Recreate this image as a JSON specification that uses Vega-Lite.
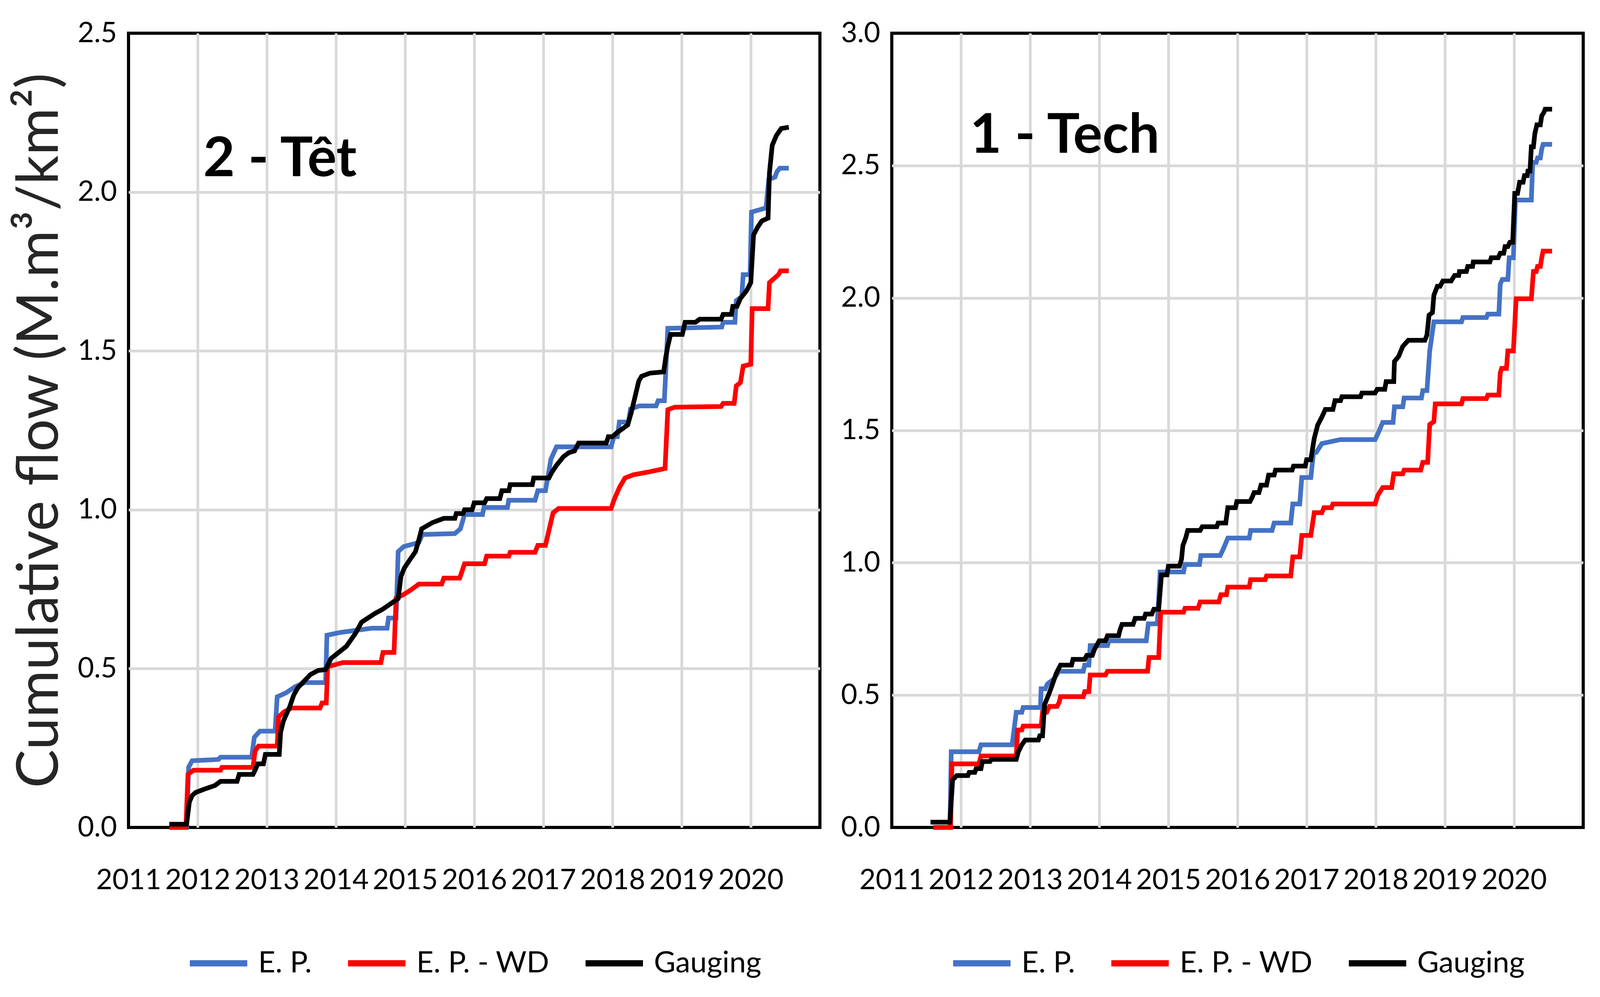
{
"$schema": "https://vega.github.io/schema/vega-lite/v6.json",
"background": "white",
"padding": {"left": 25, "top": 45, "right": 10, "bottom": 5},
"spacing": 45,
"datasets": {
"tet": [
{"series":"E. P.","year":2011.59,"flow":0},{"series":"E. P.","year":2011.84,"flow":0},{"series":"E. P.","year":2011.87,"flow":0.19},{"series":"E. P.","year":2011.92,"flow":0.21},{"series":"E. P.","year":2012.30,"flow":0.214},{"series":"E. P.","year":2012.33,"flow":0.221},{"series":"E. P.","year":2012.78,"flow":0.221},{"series":"E. P.","year":2012.82,"flow":0.284},{"series":"E. P.","year":2012.90,"flow":0.303},{"series":"E. P.","year":2013.12,"flow":0.303},{"series":"E. P.","year":2013.15,"flow":0.411},{"series":"E. P.","year":2013.28,"flow":0.424},{"series":"E. P.","year":2013.41,"flow":0.443},{"series":"E. P.","year":2013.55,"flow":0.456},{"series":"E. P.","year":2013.85,"flow":0.456},{"series":"E. P.","year":2013.87,"flow":0.605},{"series":"E. P.","year":2014.07,"flow":0.614},{"series":"E. P.","year":2014.52,"flow":0.627},{"series":"E. P.","year":2014.74,"flow":0.627},{"series":"E. P.","year":2014.76,"flow":0.659},{"series":"E. P.","year":2014.87,"flow":0.659},{"series":"E. P.","year":2014.90,"flow":0.868},{"series":"E. P.","year":2014.98,"flow":0.884},{"series":"E. P.","year":2015.20,"flow":0.897},{"series":"E. P.","year":2015.25,"flow":0.922},{"series":"E. P.","year":2015.72,"flow":0.925},{"series":"E. P.","year":2015.80,"flow":0.94},{"series":"E. P.","year":2015.86,"flow":0.985},{"series":"E. P.","year":2016.12,"flow":0.985},{"series":"E. P.","year":2016.14,"flow":1.007},{"series":"E. P.","year":2016.48,"flow":1.007},{"series":"E. P.","year":2016.50,"flow":1.03},{"series":"E. P.","year":2016.88,"flow":1.03},{"series":"E. P.","year":2016.92,"flow":1.06},{"series":"E. P.","year":2017.03,"flow":1.06},{"series":"E. P.","year":2017.11,"flow":1.16},{"series":"E. P.","year":2017.19,"flow":1.198},{"series":"E. P.","year":2017.98,"flow":1.198},{"series":"E. P.","year":2018.02,"flow":1.23},{"series":"E. P.","year":2018.07,"flow":1.23},{"series":"E. P.","year":2018.10,"flow":1.276},{"series":"E. P.","year":2018.23,"flow":1.276},{"series":"E. P.","year":2018.26,"flow":1.317},{"series":"E. P.","year":2018.39,"flow":1.327},{"series":"E. P.","year":2018.63,"flow":1.327},{"series":"E. P.","year":2018.66,"flow":1.343},{"series":"E. P.","year":2018.75,"flow":1.343},{"series":"E. P.","year":2018.80,"flow":1.571},{"series":"E. P.","year":2019.58,"flow":1.575},{"series":"E. P.","year":2019.60,"flow":1.59},{"series":"E. P.","year":2019.77,"flow":1.59},{"series":"E. P.","year":2019.79,"flow":1.658},{"series":"E. P.","year":2019.87,"flow":1.671},{"series":"E. P.","year":2019.89,"flow":1.74},{"series":"E. P.","year":2019.99,"flow":1.74},{"series":"E. P.","year":2020.01,"flow":1.937},{"series":"E. P.","year":2020.22,"flow":1.95},{"series":"E. P.","year":2020.26,"flow":2.04},{"series":"E. P.","year":2020.35,"flow":2.047},{"series":"E. P.","year":2020.38,"flow":2.065},{"series":"E. P.","year":2020.42,"flow":2.075},{"series":"E. P.","year":2020.55,"flow":2.075},
{"series":"E. P. - WD","year":2011.59,"flow":0},{"series":"E. P. - WD","year":2011.83,"flow":0},{"series":"E. P. - WD","year":2011.86,"flow":0.167},{"series":"E. P. - WD","year":2011.94,"flow":0.18},{"series":"E. P. - WD","year":2012.33,"flow":0.18},{"series":"E. P. - WD","year":2012.35,"flow":0.189},{"series":"E. P. - WD","year":2012.80,"flow":0.189},{"series":"E. P. - WD","year":2012.83,"flow":0.24},{"series":"E. P. - WD","year":2012.88,"flow":0.256},{"series":"E. P. - WD","year":2013.15,"flow":0.256},{"series":"E. P. - WD","year":2013.17,"flow":0.348},{"series":"E. P. - WD","year":2013.25,"flow":0.364},{"series":"E. P. - WD","year":2013.36,"flow":0.376},{"series":"E. P. - WD","year":2013.77,"flow":0.376},{"series":"E. P. - WD","year":2013.80,"flow":0.392},{"series":"E. P. - WD","year":2013.86,"flow":0.392},{"series":"E. P. - WD","year":2013.88,"flow":0.506},{"series":"E. P. - WD","year":2014.10,"flow":0.519},{"series":"E. P. - WD","year":2014.65,"flow":0.519},{"series":"E. P. - WD","year":2014.68,"flow":0.551},{"series":"E. P. - WD","year":2014.84,"flow":0.551},{"series":"E. P. - WD","year":2014.87,"flow":0.722},{"series":"E. P. - WD","year":2014.97,"flow":0.732},{"series":"E. P. - WD","year":2015.08,"flow":0.747},{"series":"E. P. - WD","year":2015.20,"flow":0.766},{"series":"E. P. - WD","year":2015.53,"flow":0.766},{"series":"E. P. - WD","year":2015.56,"flow":0.785},{"series":"E. P. - WD","year":2015.79,"flow":0.785},{"series":"E. P. - WD","year":2015.86,"flow":0.83},{"series":"E. P. - WD","year":2016.15,"flow":0.83},{"series":"E. P. - WD","year":2016.18,"flow":0.854},{"series":"E. P. - WD","year":2016.50,"flow":0.854},{"series":"E. P. - WD","year":2016.52,"flow":0.866},{"series":"E. P. - WD","year":2016.88,"flow":0.866},{"series":"E. P. - WD","year":2016.92,"flow":0.888},{"series":"E. P. - WD","year":2017.03,"flow":0.888},{"series":"E. P. - WD","year":2017.14,"flow":0.99},{"series":"E. P. - WD","year":2017.22,"flow":1.004},{"series":"E. P. - WD","year":2017.98,"flow":1.004},{"series":"E. P. - WD","year":2018.02,"flow":1.03},{"series":"E. P. - WD","year":2018.10,"flow":1.07},{"series":"E. P. - WD","year":2018.18,"flow":1.10},{"series":"E. P. - WD","year":2018.30,"flow":1.11},{"series":"E. P. - WD","year":2018.55,"flow":1.12},{"series":"E. P. - WD","year":2018.76,"flow":1.13},{"series":"E. P. - WD","year":2018.80,"flow":1.315},{"series":"E. P. - WD","year":2018.90,"flow":1.323},{"series":"E. P. - WD","year":2019.57,"flow":1.325},{"series":"E. P. - WD","year":2019.60,"flow":1.335},{"series":"E. P. - WD","year":2019.76,"flow":1.335},{"series":"E. P. - WD","year":2019.79,"flow":1.39},{"series":"E. P. - WD","year":2019.85,"flow":1.40},{"series":"E. P. - WD","year":2019.89,"flow":1.452},{"series":"E. P. - WD","year":2020.00,"flow":1.458},{"series":"E. P. - WD","year":2020.02,"flow":1.633},{"series":"E. P. - WD","year":2020.25,"flow":1.633},{"series":"E. P. - WD","year":2020.27,"flow":1.715},{"series":"E. P. - WD","year":2020.40,"flow":1.74},{"series":"E. P. - WD","year":2020.43,"flow":1.752},{"series":"E. P. - WD","year":2020.55,"flow":1.752},
{"series":"Gauging","year":2011.59,"flow":0.01},{"series":"Gauging","year":2011.84,"flow":0.01},{"series":"Gauging","year":2011.88,"flow":0.08},{"series":"Gauging","year":2011.92,"flow":0.10},{"series":"Gauging","year":2011.97,"flow":0.11},{"series":"Gauging","year":2012.09,"flow":0.12},{"series":"Gauging","year":2012.25,"flow":0.132},{"series":"Gauging","year":2012.33,"flow":0.145},{"series":"Gauging","year":2012.57,"flow":0.145},{"series":"Gauging","year":2012.60,"flow":0.167},{"series":"Gauging","year":2012.80,"flow":0.167},{"series":"Gauging","year":2012.83,"flow":0.18},{"series":"Gauging","year":2012.87,"flow":0.20},{"series":"Gauging","year":2012.95,"flow":0.20},{"series":"Gauging","year":2012.98,"flow":0.23},{"series":"Gauging","year":2013.18,"flow":0.23},{"series":"Gauging","year":2013.20,"flow":0.30},{"series":"Gauging","year":2013.24,"flow":0.335},{"series":"Gauging","year":2013.33,"flow":0.379},{"series":"Gauging","year":2013.39,"flow":0.417},{"series":"Gauging","year":2013.45,"flow":0.44},{"series":"Gauging","year":2013.52,"flow":0.456},{"series":"Gauging","year":2013.63,"flow":0.481},{"series":"Gauging","year":2013.74,"flow":0.494},{"series":"Gauging","year":2013.85,"flow":0.497},{"series":"Gauging","year":2013.93,"flow":0.532},{"series":"Gauging","year":2014.04,"flow":0.551},{"series":"Gauging","year":2014.15,"flow":0.57},{"series":"Gauging","year":2014.28,"flow":0.61},{"series":"Gauging","year":2014.37,"flow":0.646},{"series":"Gauging","year":2014.56,"flow":0.673},{"series":"Gauging","year":2014.67,"flow":0.686},{"series":"Gauging","year":2014.85,"flow":0.713},{"series":"Gauging","year":2014.90,"flow":0.72},{"series":"Gauging","year":2014.94,"flow":0.79},{"series":"Gauging","year":2014.99,"flow":0.817},{"series":"Gauging","year":2015.07,"flow":0.843},{"series":"Gauging","year":2015.15,"flow":0.868},{"series":"Gauging","year":2015.20,"flow":0.906},{"series":"Gauging","year":2015.24,"flow":0.94},{"series":"Gauging","year":2015.40,"flow":0.96},{"series":"Gauging","year":2015.56,"flow":0.973},{"series":"Gauging","year":2015.72,"flow":0.973},{"series":"Gauging","year":2015.74,"flow":0.988},{"series":"Gauging","year":2015.84,"flow":0.988},{"series":"Gauging","year":2015.86,"flow":1.0},{"series":"Gauging","year":2015.97,"flow":1.0},{"series":"Gauging","year":2016.00,"flow":1.022},{"series":"Gauging","year":2016.15,"flow":1.022},{"series":"Gauging","year":2016.18,"flow":1.035},{"series":"Gauging","year":2016.37,"flow":1.035},{"series":"Gauging","year":2016.40,"flow":1.06},{"series":"Gauging","year":2016.50,"flow":1.06},{"series":"Gauging","year":2016.52,"flow":1.079},{"series":"Gauging","year":2016.84,"flow":1.079},{"series":"Gauging","year":2016.86,"flow":1.10},{"series":"Gauging","year":2017.08,"flow":1.10},{"series":"Gauging","year":2017.12,"flow":1.117},{"series":"Gauging","year":2017.19,"flow":1.14},{"series":"Gauging","year":2017.29,"flow":1.167},{"series":"Gauging","year":2017.37,"flow":1.18},{"series":"Gauging","year":2017.45,"flow":1.185},{"series":"Gauging","year":2017.51,"flow":1.21},{"series":"Gauging","year":2017.91,"flow":1.21},{"series":"Gauging","year":2017.94,"flow":1.23},{"series":"Gauging","year":2018.00,"flow":1.23},{"series":"Gauging","year":2018.06,"flow":1.242},{"series":"Gauging","year":2018.14,"flow":1.254},{"series":"Gauging","year":2018.22,"flow":1.267},{"series":"Gauging","year":2018.27,"flow":1.305},{"series":"Gauging","year":2018.32,"flow":1.35},{"series":"Gauging","year":2018.38,"flow":1.405},{"series":"Gauging","year":2018.42,"flow":1.42},{"series":"Gauging","year":2018.54,"flow":1.43},{"series":"Gauging","year":2018.74,"flow":1.434},{"series":"Gauging","year":2018.77,"flow":1.48},{"series":"Gauging","year":2018.80,"flow":1.515},{"series":"Gauging","year":2018.84,"flow":1.552},{"series":"Gauging","year":2019.01,"flow":1.552},{"series":"Gauging","year":2019.05,"flow":1.59},{"series":"Gauging","year":2019.20,"flow":1.59},{"series":"Gauging","year":2019.26,"flow":1.60},{"series":"Gauging","year":2019.57,"flow":1.60},{"series":"Gauging","year":2019.60,"flow":1.615},{"series":"Gauging","year":2019.72,"flow":1.615},{"series":"Gauging","year":2019.74,"flow":1.64},{"series":"Gauging","year":2019.80,"flow":1.64},{"series":"Gauging","year":2019.85,"flow":1.665},{"series":"Gauging","year":2019.94,"flow":1.69},{"series":"Gauging","year":2020.00,"flow":1.715},{"series":"Gauging","year":2020.04,"flow":1.865},{"series":"Gauging","year":2020.10,"flow":1.89},{"series":"Gauging","year":2020.16,"flow":1.909},{"series":"Gauging","year":2020.25,"flow":1.918},{"series":"Gauging","year":2020.27,"flow":2.06},{"series":"Gauging","year":2020.31,"flow":2.147},{"series":"Gauging","year":2020.37,"flow":2.178},{"series":"Gauging","year":2020.44,"flow":2.20},{"series":"Gauging","year":2020.55,"flow":2.204}
],
"tech": [
{"series":"E. P.","year":2011.60,"flow":0},{"series":"E. P.","year":2011.84,"flow":0},{"series":"E. P.","year":2011.86,"flow":0.286},{"series":"E. P.","year":2012.26,"flow":0.286},{"series":"E. P.","year":2012.29,"flow":0.312},{"series":"E. P.","year":2012.74,"flow":0.312},{"series":"E. P.","year":2012.80,"flow":0.435},{"series":"E. P.","year":2012.88,"flow":0.435},{"series":"E. P.","year":2012.90,"flow":0.453},{"series":"E. P.","year":2013.15,"flow":0.453},{"series":"E. P.","year":2013.16,"flow":0.524},{"series":"E. P.","year":2013.22,"flow":0.524},{"series":"E. P.","year":2013.25,"flow":0.542},{"series":"E. P.","year":2013.34,"flow":0.56},{"series":"E. P.","year":2013.42,"flow":0.59},{"series":"E. P.","year":2013.77,"flow":0.59},{"series":"E. P.","year":2013.79,"flow":0.613},{"series":"E. P.","year":2013.85,"flow":0.613},{"series":"E. P.","year":2013.87,"flow":0.687},{"series":"E. P.","year":2014.12,"flow":0.687},{"series":"E. P.","year":2014.14,"flow":0.705},{"series":"E. P.","year":2014.68,"flow":0.705},{"series":"E. P.","year":2014.71,"flow":0.769},{"series":"E. P.","year":2014.84,"flow":0.769},{"series":"E. P.","year":2014.88,"flow":0.965},{"series":"E. P.","year":2015.22,"flow":0.965},{"series":"E. P.","year":2015.24,"flow":0.993},{"series":"E. P.","year":2015.45,"flow":0.993},{"series":"E. P.","year":2015.47,"flow":1.027},{"series":"E. P.","year":2015.75,"flow":1.027},{"series":"E. P.","year":2015.80,"flow":1.055},{"series":"E. P.","year":2015.86,"flow":1.093},{"series":"E. P.","year":2016.17,"flow":1.093},{"series":"E. P.","year":2016.19,"flow":1.122},{"series":"E. P.","year":2016.50,"flow":1.122},{"series":"E. P.","year":2016.53,"flow":1.15},{"series":"E. P.","year":2016.77,"flow":1.15},{"series":"E. P.","year":2016.80,"flow":1.222},{"series":"E. P.","year":2016.90,"flow":1.222},{"series":"E. P.","year":2016.93,"flow":1.322},{"series":"E. P.","year":2017.06,"flow":1.322},{"series":"E. P.","year":2017.10,"flow":1.417},{"series":"E. P.","year":2017.14,"flow":1.417},{"series":"E. P.","year":2017.22,"flow":1.45},{"series":"E. P.","year":2017.49,"flow":1.465},{"series":"E. P.","year":2017.99,"flow":1.465},{"series":"E. P.","year":2018.04,"flow":1.493},{"series":"E. P.","year":2018.10,"flow":1.53},{"series":"E. P.","year":2018.25,"flow":1.53},{"series":"E. P.","year":2018.27,"flow":1.589},{"series":"E. P.","year":2018.39,"flow":1.589},{"series":"E. P.","year":2018.41,"flow":1.622},{"series":"E. P.","year":2018.66,"flow":1.622},{"series":"E. P.","year":2018.68,"flow":1.65},{"series":"E. P.","year":2018.74,"flow":1.65},{"series":"E. P.","year":2018.78,"flow":1.80},{"series":"E. P.","year":2018.84,"flow":1.91},{"series":"E. P.","year":2019.24,"flow":1.91},{"series":"E. P.","year":2019.26,"flow":1.926},{"series":"E. P.","year":2019.60,"flow":1.926},{"series":"E. P.","year":2019.62,"flow":1.939},{"series":"E. P.","year":2019.78,"flow":1.939},{"series":"E. P.","year":2019.80,"flow":2.052},{"series":"E. P.","year":2019.83,"flow":2.07},{"series":"E. P.","year":2019.91,"flow":2.07},{"series":"E. P.","year":2019.93,"flow":2.152},{"series":"E. P.","year":2019.99,"flow":2.152},{"series":"E. P.","year":2020.02,"flow":2.37},{"series":"E. P.","year":2020.25,"flow":2.37},{"series":"E. P.","year":2020.27,"flow":2.512},{"series":"E. P.","year":2020.32,"flow":2.512},{"series":"E. P.","year":2020.34,"flow":2.529},{"series":"E. P.","year":2020.38,"flow":2.529},{"series":"E. P.","year":2020.40,"flow":2.562},{"series":"E. P.","year":2020.42,"flow":2.58},{"series":"E. P.","year":2020.55,"flow":2.58},
{"series":"E. P. - WD","year":2011.60,"flow":0},{"series":"E. P. - WD","year":2011.85,"flow":0},{"series":"E. P. - WD","year":2011.87,"flow":0.24},{"series":"E. P. - WD","year":2012.26,"flow":0.24},{"series":"E. P. - WD","year":2012.29,"flow":0.27},{"series":"E. P. - WD","year":2012.80,"flow":0.27},{"series":"E. P. - WD","year":2012.82,"flow":0.368},{"series":"E. P. - WD","year":2012.88,"flow":0.368},{"series":"E. P. - WD","year":2012.90,"flow":0.383},{"series":"E. P. - WD","year":2013.16,"flow":0.383},{"series":"E. P. - WD","year":2013.18,"flow":0.435},{"series":"E. P. - WD","year":2013.24,"flow":0.435},{"series":"E. P. - WD","year":2013.28,"flow":0.457},{"series":"E. P. - WD","year":2013.39,"flow":0.457},{"series":"E. P. - WD","year":2013.42,"flow":0.472},{"series":"E. P. - WD","year":2013.44,"flow":0.494},{"series":"E. P. - WD","year":2013.77,"flow":0.494},{"series":"E. P. - WD","year":2013.79,"flow":0.513},{"series":"E. P. - WD","year":2013.85,"flow":0.513},{"series":"E. P. - WD","year":2013.87,"flow":0.576},{"series":"E. P. - WD","year":2014.09,"flow":0.576},{"series":"E. P. - WD","year":2014.12,"flow":0.59},{"series":"E. P. - WD","year":2014.70,"flow":0.59},{"series":"E. P. - WD","year":2014.72,"flow":0.642},{"series":"E. P. - WD","year":2014.86,"flow":0.642},{"series":"E. P. - WD","year":2014.89,"flow":0.813},{"series":"E. P. - WD","year":2015.22,"flow":0.813},{"series":"E. P. - WD","year":2015.24,"flow":0.828},{"series":"E. P. - WD","year":2015.43,"flow":0.828},{"series":"E. P. - WD","year":2015.46,"flow":0.852},{"series":"E. P. - WD","year":2015.73,"flow":0.852},{"series":"E. P. - WD","year":2015.76,"flow":0.879},{"series":"E. P. - WD","year":2015.84,"flow":0.879},{"series":"E. P. - WD","year":2015.86,"flow":0.908},{"series":"E. P. - WD","year":2016.17,"flow":0.908},{"series":"E. P. - WD","year":2016.19,"flow":0.936},{"series":"E. P. - WD","year":2016.40,"flow":0.936},{"series":"E. P. - WD","year":2016.42,"flow":0.95},{"series":"E. P. - WD","year":2016.77,"flow":0.95},{"series":"E. P. - WD","year":2016.80,"flow":1.022},{"series":"E. P. - WD","year":2016.90,"flow":1.022},{"series":"E. P. - WD","year":2016.93,"flow":1.103},{"series":"E. P. - WD","year":2017.06,"flow":1.103},{"series":"E. P. - WD","year":2017.11,"flow":1.189},{"series":"E. P. - WD","year":2017.22,"flow":1.189},{"series":"E. P. - WD","year":2017.25,"flow":1.208},{"series":"E. P. - WD","year":2017.36,"flow":1.208},{"series":"E. P. - WD","year":2017.38,"flow":1.222},{"series":"E. P. - WD","year":2017.99,"flow":1.222},{"series":"E. P. - WD","year":2018.03,"flow":1.255},{"series":"E. P. - WD","year":2018.10,"flow":1.284},{"series":"E. P. - WD","year":2018.23,"flow":1.284},{"series":"E. P. - WD","year":2018.26,"flow":1.336},{"series":"E. P. - WD","year":2018.39,"flow":1.336},{"series":"E. P. - WD","year":2018.41,"flow":1.35},{"series":"E. P. - WD","year":2018.65,"flow":1.35},{"series":"E. P. - WD","year":2018.68,"flow":1.379},{"series":"E. P. - WD","year":2018.75,"flow":1.379},{"series":"E. P. - WD","year":2018.78,"flow":1.522},{"series":"E. P. - WD","year":2018.84,"flow":1.533},{"series":"E. P. - WD","year":2018.86,"flow":1.60},{"series":"E. P. - WD","year":2019.24,"flow":1.60},{"series":"E. P. - WD","year":2019.26,"flow":1.62},{"series":"E. P. - WD","year":2019.60,"flow":1.62},{"series":"E. P. - WD","year":2019.62,"flow":1.633},{"series":"E. P. - WD","year":2019.78,"flow":1.633},{"series":"E. P. - WD","year":2019.80,"flow":1.717},{"series":"E. P. - WD","year":2019.82,"flow":1.734},{"series":"E. P. - WD","year":2019.89,"flow":1.734},{"series":"E. P. - WD","year":2019.91,"flow":1.80},{"series":"E. P. - WD","year":2019.99,"flow":1.80},{"series":"E. P. - WD","year":2020.03,"flow":1.997},{"series":"E. P. - WD","year":2020.25,"flow":1.997},{"series":"E. P. - WD","year":2020.28,"flow":2.10},{"series":"E. P. - WD","year":2020.32,"flow":2.10},{"series":"E. P. - WD","year":2020.34,"flow":2.119},{"series":"E. P. - WD","year":2020.38,"flow":2.119},{"series":"E. P. - WD","year":2020.40,"flow":2.152},{"series":"E. P. - WD","year":2020.42,"flow":2.177},{"series":"E. P. - WD","year":2020.55,"flow":2.177},
{"series":"Gauging","year":2011.56,"flow":0.02},{"series":"Gauging","year":2011.84,"flow":0.02},{"series":"Gauging","year":2011.88,"flow":0.18},{"series":"Gauging","year":2011.94,"flow":0.196},{"series":"Gauging","year":2012.10,"flow":0.196},{"series":"Gauging","year":2012.12,"flow":0.208},{"series":"Gauging","year":2012.20,"flow":0.208},{"series":"Gauging","year":2012.22,"flow":0.222},{"series":"Gauging","year":2012.29,"flow":0.222},{"series":"Gauging","year":2012.31,"flow":0.249},{"series":"Gauging","year":2012.42,"flow":0.249},{"series":"Gauging","year":2012.44,"flow":0.257},{"series":"Gauging","year":2012.80,"flow":0.257},{"series":"Gauging","year":2012.83,"flow":0.286},{"series":"Gauging","year":2012.88,"flow":0.312},{"series":"Gauging","year":2012.93,"flow":0.33},{"series":"Gauging","year":2013.12,"flow":0.33},{"series":"Gauging","year":2013.14,"flow":0.346},{"series":"Gauging","year":2013.18,"flow":0.346},{"series":"Gauging","year":2013.21,"flow":0.464},{"series":"Gauging","year":2013.28,"flow":0.509},{"series":"Gauging","year":2013.34,"flow":0.553},{"series":"Gauging","year":2013.38,"flow":0.583},{"series":"Gauging","year":2013.44,"flow":0.613},{"series":"Gauging","year":2013.60,"flow":0.613},{"series":"Gauging","year":2013.62,"flow":0.635},{"series":"Gauging","year":2013.79,"flow":0.635},{"series":"Gauging","year":2013.82,"flow":0.65},{"series":"Gauging","year":2013.90,"flow":0.65},{"series":"Gauging","year":2013.93,"flow":0.672},{"series":"Gauging","year":2014.00,"flow":0.705},{"series":"Gauging","year":2014.09,"flow":0.705},{"series":"Gauging","year":2014.12,"flow":0.724},{"series":"Gauging","year":2014.28,"flow":0.724},{"series":"Gauging","year":2014.30,"flow":0.746},{"series":"Gauging","year":2014.33,"flow":0.767},{"series":"Gauging","year":2014.49,"flow":0.767},{"series":"Gauging","year":2014.52,"flow":0.79},{"series":"Gauging","year":2014.65,"flow":0.79},{"series":"Gauging","year":2014.67,"flow":0.806},{"series":"Gauging","year":2014.76,"flow":0.806},{"series":"Gauging","year":2014.79,"flow":0.824},{"series":"Gauging","year":2014.86,"flow":0.824},{"series":"Gauging","year":2014.90,"flow":0.954},{"series":"Gauging","year":2014.98,"flow":0.954},{"series":"Gauging","year":2015.00,"flow":0.987},{"series":"Gauging","year":2015.16,"flow":0.987},{"series":"Gauging","year":2015.19,"flow":1.013},{"series":"Gauging","year":2015.21,"flow":1.065},{"series":"Gauging","year":2015.25,"flow":1.093},{"series":"Gauging","year":2015.28,"flow":1.122},{"series":"Gauging","year":2015.46,"flow":1.122},{"series":"Gauging","year":2015.49,"flow":1.136},{"series":"Gauging","year":2015.70,"flow":1.136},{"series":"Gauging","year":2015.72,"flow":1.15},{"series":"Gauging","year":2015.83,"flow":1.15},{"series":"Gauging","year":2015.86,"flow":1.208},{"series":"Gauging","year":2015.97,"flow":1.208},{"series":"Gauging","year":2015.99,"flow":1.231},{"series":"Gauging","year":2016.18,"flow":1.231},{"series":"Gauging","year":2016.21,"flow":1.246},{"series":"Gauging","year":2016.24,"flow":1.265},{"series":"Gauging","year":2016.31,"flow":1.265},{"series":"Gauging","year":2016.34,"flow":1.293},{"series":"Gauging","year":2016.42,"flow":1.293},{"series":"Gauging","year":2016.45,"flow":1.331},{"series":"Gauging","year":2016.53,"flow":1.331},{"series":"Gauging","year":2016.55,"flow":1.35},{"series":"Gauging","year":2016.79,"flow":1.35},{"series":"Gauging","year":2016.81,"flow":1.365},{"series":"Gauging","year":2016.98,"flow":1.365},{"series":"Gauging","year":2017.00,"flow":1.389},{"series":"Gauging","year":2017.06,"flow":1.389},{"series":"Gauging","year":2017.11,"flow":1.47},{"series":"Gauging","year":2017.16,"flow":1.52},{"series":"Gauging","year":2017.22,"flow":1.55},{"series":"Gauging","year":2017.27,"flow":1.579},{"series":"Gauging","year":2017.38,"flow":1.579},{"series":"Gauging","year":2017.41,"flow":1.612},{"series":"Gauging","year":2017.49,"flow":1.612},{"series":"Gauging","year":2017.51,"flow":1.627},{"series":"Gauging","year":2017.78,"flow":1.627},{"series":"Gauging","year":2017.80,"flow":1.641},{"series":"Gauging","year":2017.99,"flow":1.641},{"series":"Gauging","year":2018.02,"flow":1.655},{"series":"Gauging","year":2018.13,"flow":1.655},{"series":"Gauging","year":2018.15,"flow":1.684},{"series":"Gauging","year":2018.26,"flow":1.684},{"series":"Gauging","year":2018.27,"flow":1.76},{"series":"Gauging","year":2018.33,"flow":1.779},{"series":"Gauging","year":2018.39,"flow":1.817},{"series":"Gauging","year":2018.47,"flow":1.84},{"series":"Gauging","year":2018.71,"flow":1.84},{"series":"Gauging","year":2018.74,"flow":1.86},{"series":"Gauging","year":2018.77,"flow":1.935},{"series":"Gauging","year":2018.82,"flow":1.945},{"series":"Gauging","year":2018.84,"flow":2.01},{"series":"Gauging","year":2018.89,"flow":2.044},{"series":"Gauging","year":2018.93,"flow":2.044},{"series":"Gauging","year":2018.97,"flow":2.064},{"series":"Gauging","year":2019.09,"flow":2.064},{"series":"Gauging","year":2019.14,"flow":2.085},{"series":"Gauging","year":2019.20,"flow":2.085},{"series":"Gauging","year":2019.21,"flow":2.10},{"series":"Gauging","year":2019.31,"flow":2.10},{"series":"Gauging","year":2019.33,"flow":2.119},{"series":"Gauging","year":2019.40,"flow":2.119},{"series":"Gauging","year":2019.41,"flow":2.136},{"series":"Gauging","year":2019.65,"flow":2.136},{"series":"Gauging","year":2019.67,"flow":2.152},{"series":"Gauging","year":2019.77,"flow":2.152},{"series":"Gauging","year":2019.80,"flow":2.169},{"series":"Gauging","year":2019.85,"flow":2.169},{"series":"Gauging","year":2019.87,"flow":2.194},{"series":"Gauging","year":2019.91,"flow":2.194},{"series":"Gauging","year":2019.94,"flow":2.21},{"series":"Gauging","year":2019.98,"flow":2.21},{"series":"Gauging","year":2020.01,"flow":2.395},{"series":"Gauging","year":2020.05,"flow":2.395},{"series":"Gauging","year":2020.08,"flow":2.437},{"series":"Gauging","year":2020.13,"flow":2.437},{"series":"Gauging","year":2020.15,"flow":2.462},{"series":"Gauging","year":2020.19,"flow":2.462},{"series":"Gauging","year":2020.20,"flow":2.479},{"series":"Gauging","year":2020.23,"flow":2.479},{"series":"Gauging","year":2020.25,"flow":2.571},{"series":"Gauging","year":2020.28,"flow":2.571},{"series":"Gauging","year":2020.30,"flow":2.62},{"series":"Gauging","year":2020.33,"flow":2.654},{"series":"Gauging","year":2020.38,"flow":2.654},{"series":"Gauging","year":2020.40,"flow":2.688},{"series":"Gauging","year":2020.43,"flow":2.70},{"series":"Gauging","year":2020.45,"flow":2.713},{"series":"Gauging","year":2020.55,"flow":2.713}
]
},
"hconcat": [
{
"width": 1770, "height": 2033,
"layer": [
{
"data": {"name": "tet"},
"mark": {"type": "line", "strokeWidth": 12, "strokeJoin": "miter"},
"encoding": {
"x": {"field": "year", "type": "quantitative", "scale": {"domain": [2011, 2021], "nice": false, "zero": false},
"axis": {"values": [2011,2012,2013,2014,2015,2016,2017,2018,2019,2020], "format": "d", "title": null, "labelPadding": 100, "labelFlush": false, "labelOverlap": false, "labelLimit": 1000,
"gridColor": {"condition": {"test": "datum.value == 2011", "value": "transparent"}, "value": "#d9d9d9"}}},
"y": {"field": "flow", "type": "quantitative", "scale": {"domain": [0, 2.5], "nice": false},
"axis": {"values": [0,0.5,1,1.5,2,2.5], "format": ".1f", "title": "Cumulative flow (M.m³/km²)", "labelPadding": 30, "titlePadding": 20, "labelLimit": 1000, "titleLimit": 4000,
"gridColor": {"condition": {"test": "datum.value == 0 || datum.value == 2.5", "value": "transparent"}, "value": "#d9d9d9"}}},
"color": {"field": "series", "type": "nominal", "sort": null, "scale": {"domain": ["E. P.", "E. P. - WD", "Gauging"], "range": ["#4472C4", "#FF0000", "#000000"]},
"legend": {"orient": "bottom", "direction": "horizontal", "title": null, "symbolType": "stroke", "symbolSize": 21609, "symbolStrokeWidth": 16, "labelFontSize": 76, "labelFont": "Lato", "labelColor": "#000000", "columnPadding": 60, "labelOffset": 20, "offset": 95, "labelLimit": 2000}}
}
},
{
"data": {"values": [{"year": 2012.08, "flow": 2.05, "label": "2 - Têt"}]},
"mark": {"type": "text", "align": "left", "baseline": "alphabetic", "fontSize": 140, "fontWeight": "bold", "font": "Lato", "color": "#000000"},
"encoding": {"x": {"field": "year", "type": "quantitative"}, "y": {"field": "flow", "type": "quantitative"}, "text": {"field": "label"}}
}
]
},
{
"width": 1770, "height": 2033,
"layer": [
{
"data": {"name": "tech"},
"mark": {"type": "line", "strokeWidth": 12, "strokeJoin": "miter"},
"encoding": {
"x": {"field": "year", "type": "quantitative", "scale": {"domain": [2011, 2021], "nice": false, "zero": false},
"axis": {"values": [2011,2012,2013,2014,2015,2016,2017,2018,2019,2020], "format": "d", "title": null, "labelPadding": 100, "labelFlush": false, "labelOverlap": false, "labelLimit": 1000,
"gridColor": {"condition": {"test": "datum.value == 2011", "value": "transparent"}, "value": "#d9d9d9"}}},
"y": {"field": "flow", "type": "quantitative", "scale": {"domain": [0, 3], "nice": false},
"axis": {"values": [0,0.5,1,1.5,2,2.5,3], "format": ".1f", "title": null, "labelPadding": 30, "labelLimit": 1000,
"gridColor": {"condition": {"test": "datum.value == 0 || datum.value == 3", "value": "transparent"}, "value": "#d9d9d9"}}},
"color": {"field": "series", "type": "nominal", "sort": null, "scale": {"domain": ["E. P.", "E. P. - WD", "Gauging"], "range": ["#4472C4", "#FF0000", "#000000"]},
"legend": {"orient": "bottom", "direction": "horizontal", "title": null, "symbolType": "stroke", "symbolSize": 21609, "symbolStrokeWidth": 16, "labelFontSize": 76, "labelFont": "Lato", "labelColor": "#000000", "columnPadding": 60, "labelOffset": 20, "offset": 95, "labelLimit": 2000}}
}
},
{
"data": {"values": [{"year": 2012.13, "flow": 2.548, "label": "1 - Tech"}]},
"mark": {"type": "text", "align": "left", "baseline": "alphabetic", "fontSize": 140, "fontWeight": "bold", "font": "Lato", "color": "#000000"},
"encoding": {"x": {"field": "year", "type": "quantitative"}, "y": {"field": "flow", "type": "quantitative"}, "text": {"field": "label"}}
}
]
}
],
"resolve": {"scale": {"color": "independent", "x": "independent", "y": "independent"}, "legend": {"color": "independent"}},
"config": {
"view": {"stroke": "#000000", "strokeWidth": 8},
"axis": {"grid": true, "gridWidth": 7, "domain": false, "ticks": false, "tickSize": 0, "labelFont": "Lato", "labelFontSize": 72, "labelColor": "#000000", "titleFont": "Lato", "titleFontSize": 148, "titleColor": "#262626", "titleFontWeight": "normal"},
"legend": {"layout": {"bottom": {"anchor": "middle"}}},
"font": "Lato"
}
}
